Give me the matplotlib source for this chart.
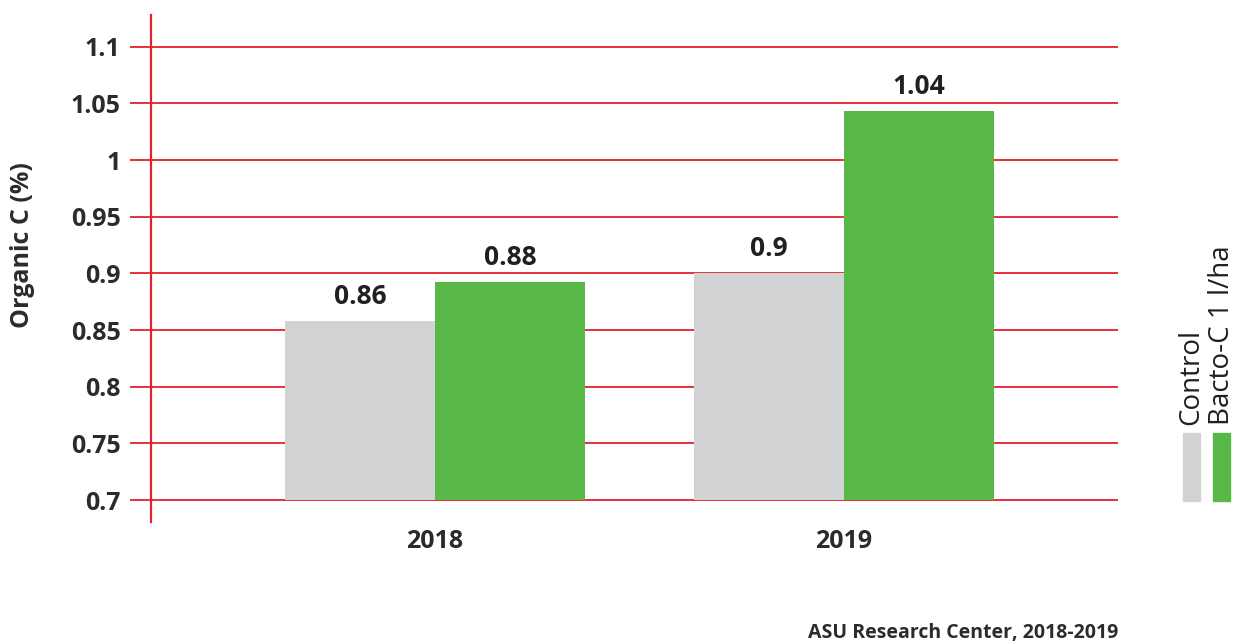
import matplotlib
matplotlib.use("Agg")
import matplotlib.pyplot as plt
from matplotlib.patches import Rectangle
import numpy as np

years = ["2018", "2019"]
series_names = ["Control", "Bacto-C 1 l/ha"]
control = [0.858, 0.900]
bacto = [0.892, 1.043]
control_labels = ["0.86", "0.9"]
bacto_labels = ["0.88", "1.04"]
yticks = [0.7, 0.75, 0.8, 0.85, 0.9, 0.95, 1.0, 1.05, 1.1]
ytick_labels = ["0.7", "0.75", "0.8", "0.85", "0.9", "0.95", "1", "1.05", "1.1"]
base = 0.7

GREY = "#d1d2d4"
GREEN = "#57b847"
RED = "#e6202a"
TXT = "#2b2b2b"

plt.rcParams['font.family'] = ['Open Sans', 'DejaVu Sans']

W, H = 1240, 641
fig = plt.figure(figsize=(W / 100, H / 100), dpi=100)
ax = fig.add_axes([151 / W, 1 - 522 / H, (1118 - 151) / W, (522 - 15) / H])

x = np.arange(len(years))
bw = 0.367
ax.bar(x - bw / 2, np.array(control) - base, bw, bottom=base, color=GREY, zorder=3)
ax.bar(x + bw / 2, np.array(bacto) - base, bw, bottom=base, color=GREEN, zorder=3)

for i in range(len(years)):
    ax.text(x[i] - bw / 2, control[i] + 0.010, control_labels[i], ha="center", va="bottom",
            fontsize=19, fontweight="bold", color="#231f20", zorder=4)
    ax.text(x[i] + bw / 2, bacto[i] + 0.010, bacto_labels[i], ha="center", va="bottom",
            fontsize=19, fontweight="bold", color="#231f20", zorder=4)

ax.set_xlim(-0.694, 1.670)
ax.set_ylim(0.6806, 1.128)
ax.set_yticks(yticks)
ax.set_yticklabels(ytick_labels, fontsize=18, fontweight="bold", color=TXT)
ax.set_xticks(x)
ax.set_xticklabels(years, fontsize=18, fontweight="bold", color=TXT)
ax.tick_params(axis="x", length=0, pad=5)
ax.tick_params(axis="y", length=15, width=1.3, color=RED, pad=7)
for yv in yticks:
    ax.axhline(yv, color=RED, lw=1.3, zorder=2)

for s in ["top", "right", "bottom"]:
    ax.spines[s].set_visible(False)
ax.spines["left"].set_color(RED)
ax.spines["left"].set_linewidth(1.6)

ax.set_ylabel("Organic C (%)", fontsize=18, fontweight="bold", color=TXT)
ax.yaxis.set_label_coords((35 - 151) / 967, (522 - 245) / 507)

# legend (vertical)
fig.patches.append(Rectangle((1183 / W, 1 - 501 / H), 17 / W, 68 / H, transform=fig.transFigure,
                             color=GREY, figure=fig))
fig.patches.append(Rectangle((1213 / W, 1 - 501 / H), 17 / W, 68 / H, transform=fig.transFigure,
                             color=GREEN, figure=fig))
fig.text(1191 / W, 1 - 425 / H, series_names[0], rotation=90, ha="center", va="bottom",
         fontsize=20, color="#231f20")
fig.text(1222 / W, 1 - 425 / H, series_names[1], rotation=90, ha="center", va="bottom",
         fontsize=20, color="#231f20")

fig.text(1118 / W, 1 - 633 / H, "ASU Research Center, 2018-2019", ha="right", va="center",
         fontsize=14, fontweight="bold", color=TXT)

fig.savefig("out.png", dpi=100)
